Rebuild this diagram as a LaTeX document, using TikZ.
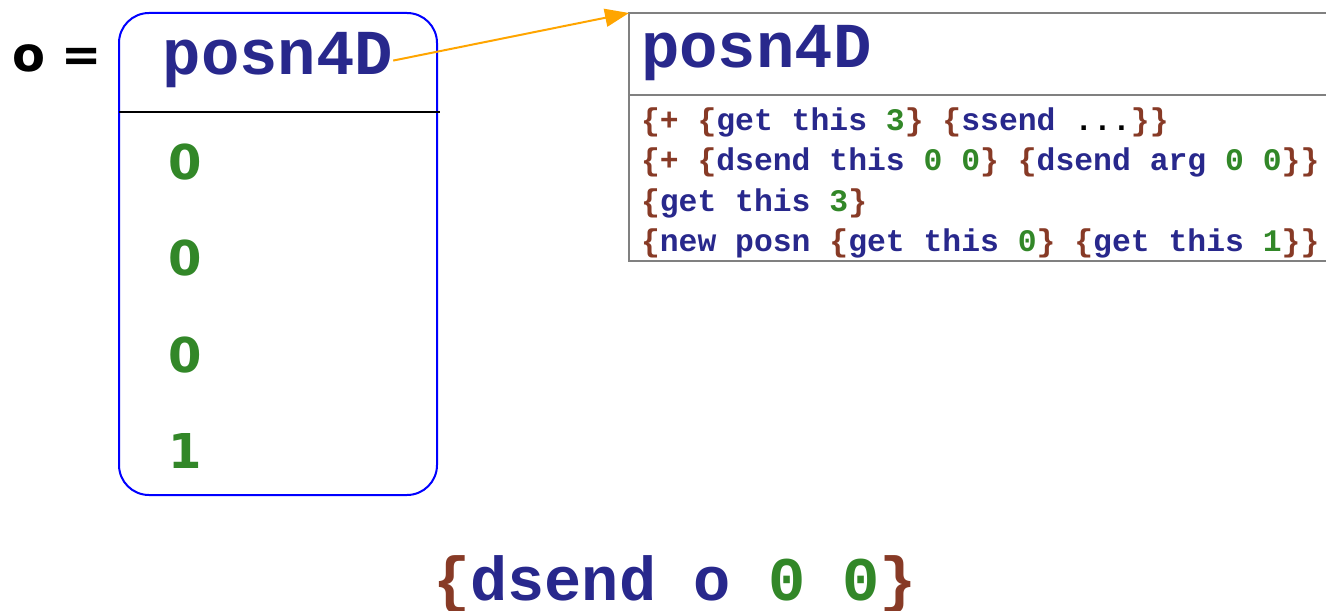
\documentclass[tikz,border=0pt]{standalone}
\usepackage{fontspec}
\usetikzlibrary{arrows.meta}
\newfontfamily\cmono{Liberation Mono}
\newfontfamily\csans{DejaVu Sans}
\definecolor{kwblue}{RGB}{40,40,140}
\definecolor{brbrown}{RGB}{135,58,38}
\definecolor{nmgreen}{RGB}{50,135,40}
\definecolor{arrorange}{RGB}{255,165,0}
\definecolor{boxgray}{RGB}{128,128,128}
\newcommand\Kb[1]{\textcolor{kwblue}{#1}}
\newcommand\Br[1]{\textcolor{brbrown}{#1}}
\newcommand\Nm[1]{\textcolor{nmgreen}{#1}}
\begin{document}
\begin{tikzpicture}[x=0.5pt,y=-0.5pt,
  txt/.style={inner sep=0pt, outer sep=0pt},
  bigmono/.style={txt, font=\cmono\bfseries\fontsize{32}{32}\selectfont, text=kwblue},
  codeline/.style={txt, anchor=base west, font=\cmono\bfseries\fontsize{15.7}{16}\selectfont, text=kwblue},
  digit/.style={txt, anchor=base west, font=\csans\bfseries\fontsize{24}{24}\selectfont, text=nmgreen},
  objbox/.style={draw=blue, line width=1pt, rounded corners=15pt, minimum width=159pt, minimum height=241pt, inner sep=0pt},
  graybox/.style={draw=boxgray, line width=1pt}
]
\useasboundingbox (0,0) rectangle (1326,610);
\clip (0,0) rectangle (1326,610);
% object box
\node[objbox] (obj) at (278,254) {};
\draw[line width=1pt] (119,112) coordinate (sepL) -- (440,112) coordinate (sepR);
\node[txt, anchor=base west, font=\csans\bfseries\fontsize{24}{24}\selectfont] (olbl) at (12,72) {o =};
\node[bigmono, anchor=base] (lhead) at (278,75) {posn4D};
\node[digit] (d0) at (168,179) {0};
\node[digit] (d1) at (168,275) {0};
\node[digit] (d2) at (168,372) {0};
\node[digit] (d3) at (168,468) {1};
% class box (open to the right, runs off the picture)
\coordinate (codeNW) at (629,13);
\coordinate (codeSW) at (629,261);
\draw[graybox] (1330,13) -- (codeNW) -- (codeSW) -- (1330,261);
\draw[graybox] (629,95) coordinate (hsepL) -- (1330,95) coordinate (hsepR);
\node[bigmono, anchor=base west] (chead) at (641,68) {posn4D};
\node[codeline] (c1) at (641,130) {\Br{\{+ \{}get this \Nm{3}\Br{\} \{}ssend \textcolor{black}{...}\Br{\}\}}};
\node[codeline] (c2) at (641,170) {\Br{\{+ \{}dsend this \Nm{0 0}\Br{\} \{}dsend arg \Nm{0 0}\Br{\}\}}};
\node[codeline] (c3) at (641,211) {\Br{\{}get this \Nm{3}\Br{\}}};
\node[codeline] (c4) at (641,251) {\Br{\{}new posn \Br{\{}get this \Nm{0}\Br{\} \{}get this \Nm{1}\Br{\}\}}};
% arrow
\draw[arrorange, line width=1pt, -{Triangle[length=12pt,width=9pt]}] (lhead.east) -- (codeNW);
% bottom expression
\node[bigmono, anchor=base, font=\cmono\bfseries\fontsize{31}{31}\selectfont] (expr) at (675,600) {\Br{\{}dsend o \Nm{0 0}\Br{\}}};
\end{tikzpicture}
\end{document}
